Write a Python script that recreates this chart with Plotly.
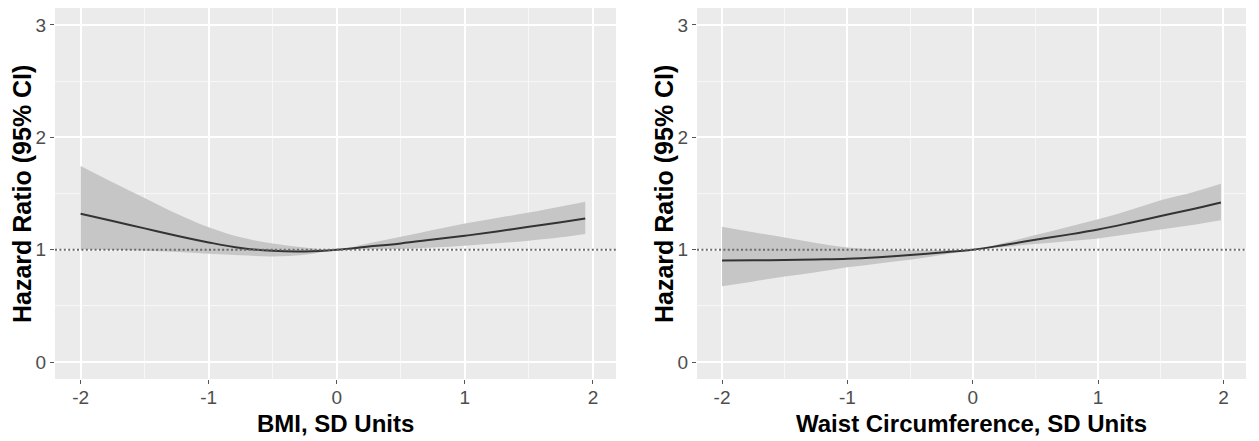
import plotly.graph_objects as go

# ---- data ----
bmi_x = [-2.0, -1.75, -1.5, -1.25, -1.0, -0.75, -0.5, -0.25, 0.0, 0.25, 0.5, 0.75, 1.0, 1.25, 1.5, 1.75, 1.94]
bmi_hr = [1.32, 1.255, 1.19, 1.125, 1.065, 1.015, 0.99, 0.985, 1.0, 1.028, 1.056, 1.09, 1.124, 1.162, 1.204, 1.245, 1.277]
bmi_hi = [1.745, 1.60, 1.46, 1.32, 1.20, 1.11, 1.055, 1.02, 1.0, 1.058, 1.115, 1.175, 1.233, 1.282, 1.33, 1.385, 1.427]
bmi_lo = [1.005, 1.0, 0.99, 0.98, 0.965, 0.95, 0.94, 0.955, 1.0, 1.003, 1.006, 1.02, 1.035, 1.057, 1.08, 1.11, 1.139]

waist_x = [-2.0, -1.75, -1.5, -1.25, -1.0, -0.75, -0.5, -0.25, 0.0, 0.25, 0.5, 0.75, 1.0, 1.25, 1.5, 1.75, 1.98]
waist_hr = [0.903, 0.906, 0.909, 0.914, 0.92, 0.934, 0.953, 0.975, 1.0, 1.042, 1.088, 1.132, 1.18, 1.238, 1.30, 1.36, 1.42]
waist_hi = [1.204, 1.155, 1.109, 1.06, 1.02, 1.0, 0.995, 0.995, 1.0, 1.062, 1.13, 1.20, 1.27, 1.35, 1.44, 1.51, 1.587]
waist_lo = [0.675, 0.718, 0.761, 0.80, 0.843, 0.878, 0.91, 0.952, 1.0, 1.025, 1.05, 1.075, 1.10, 1.14, 1.18, 1.22, 1.263]

ref_hr = 1.0
x_ticks = [-2, -1, 0, 1, 2]
y_ticks = [0, 1, 2, 3]
x_titles = ["BMI, SD Units", "Waist Circumference, SD Units"]
y_title = "Hazard Ratio (95% CI)"

# ---- style ----
W, H = 1259, 441
FONT = "Arial, Liberation Sans, Helvetica, sans-serif"
PANEL_BG = "#EBEBEB"
BAND = "#C6C6C6"
LINE = "#333333"

panels = [
    dict(x=bmi_x, hr=bmi_hr, hi=bmi_hi, lo=bmi_lo, dom=(55, 616)),
    dict(x=waist_x, hr=waist_hr, hi=waist_hi, lo=waist_lo, dom=(697, 1246)),
]
y_dom = (1 - 379 / H, 1 - 8 / H)

fig = go.Figure()
layout = dict(
    width=W, height=H,
    margin=dict(l=0, r=0, t=0, b=0),
    paper_bgcolor="white",
    plot_bgcolor=PANEL_BG,
    showlegend=False,
    font=dict(family=FONT),
)
shapes = []
annotations = []
for i, p in enumerate(panels):
    sfx = "" if i == 0 else str(i + 1)
    xa, ya = "x" + sfx, "y" + sfx
    fig.add_trace(go.Scatter(x=p["x"], y=p["lo"], mode="lines", line=dict(width=0, color=BAND),
                             xaxis=xa, yaxis=ya, hoverinfo="skip", line_shape="spline"))
    fig.add_trace(go.Scatter(x=p["x"], y=p["hi"], mode="lines", line=dict(width=0, color=BAND),
                             fill="tonexty", fillcolor=BAND, xaxis=xa, yaxis=ya, hoverinfo="skip",
                             line_shape="spline"))
    fig.add_trace(go.Scatter(x=p["x"], y=p["hr"], mode="lines", line=dict(width=2, color=LINE),
                             xaxis=xa, yaxis=ya, line_shape="spline"))
    d0, d1 = p["dom"]
    common = dict(
        showgrid=True, gridcolor="white", gridwidth=1.6,
        minor=dict(dtick=0.5, tick0=0, showgrid=True, gridcolor="#F7F7F7", gridwidth=0.8, ticks=""),
        zeroline=False, showline=False,
        ticks="outside", ticklen=4, tickwidth=1, tickcolor="#555555",
        tickfont=dict(size=19, color="#4D4D4D", family=FONT),
    )
    layout["xaxis" + sfx] = dict(
        domain=[d0 / W, d1 / W], range=[-2.2, 2.18], anchor=ya,
        tickvals=x_ticks, ticktext=[str(v) for v in x_ticks], ticklabelstandoff=-3,
        **common,
    )
    layout["yaxis" + sfx] = dict(
        domain=list(y_dom), range=[-0.15, 3.15], anchor=xa,
        tickvals=y_ticks, ticktext=[str(v) for v in y_ticks],
        **common,
    )
    shapes.append(dict(type="line", xref=xa + " domain", yref=ya, x0=0, x1=1, y0=ref_hr, y1=ref_hr,
                       line=dict(color="#6A6A6A", width=2, dash="2px,2.4px"), layer="above"))
    annotations.append(dict(text="<b>" + x_titles[i] + "</b>", xref="paper", yref="paper",
                            x=(d0 + d1) / 2 / W, y=1 - 423 / H, showarrow=False,
                            xanchor="center", yanchor="middle",
                            font=dict(size=24, color="black", family=FONT)))
    annotations.append(dict(text="<b>" + y_title + "</b>", xref="paper", yref="paper",
                            x=(d0 - 33) / W, y=1 - 194 / H, showarrow=False, textangle=-90,
                            xanchor="center", yanchor="middle",
                            font=dict(size=25, color="black", family=FONT)))

layout["shapes"] = shapes
layout["annotations"] = annotations
fig.update_layout(**layout)
fig.write_html("out.html")
